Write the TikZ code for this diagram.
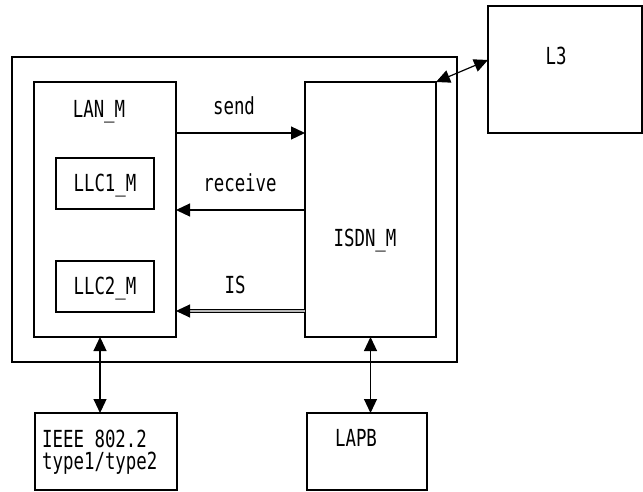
\documentclass[tikz,border=0pt]{standalone}
\usepackage{fontspec}
\newfontfamily\monof[FakeStretch=0.74]{DejaVu Sans Mono}
\usetikzlibrary{arrows.meta,calc}
\begin{document}
\begin{tikzpicture}[x=1pt,y=-1pt]
\tikzset{
 box/.style={draw, line width=1.2pt, inner sep=0pt, outer sep=0pt},
 txt/.style={font=\monof\fontsize{23.5}{26}\selectfont, inner sep=0pt, anchor=base},
 tip/.tip={Triangle[length=14pt,width=13pt]},
 arr/.style={line width=1.2pt, -tip},
 darr/.style={line width=1.2pt, tip-tip},
 dbl/.style={line width=1pt, double=gray!55, double distance=1.8pt, -tip},
}
\useasboundingbox (0,0) rectangle (643,492);
% boxes
\node[box, minimum width=445pt, minimum height=305pt] (outer) at (234.5,209.5) {};
\node[box, minimum width=142pt, minimum height=255pt] (lan) at (105,209.5) {};
\node[box, minimum width=98pt, minimum height=51pt] (llc1) at (105,183.5) {};
\node[box, minimum width=98pt, minimum height=51pt] (llc2) at (105,286.5) {};
\node[box, minimum width=131pt, minimum height=255pt] (isdn) at (370.5,209.5) {};
\node[box, minimum width=154pt, minimum height=127pt] (l3) at (565,69.5) {};
\node[box, minimum width=142pt, minimum height=77pt] (ieee) at (106,451.5) {};
\node[box, minimum width=120pt, minimum height=77pt] (lapb) at (367,451.5) {};
% texts
\node[txt] (tlan) at (99,118) {LAN\_M};
\node[txt] (tllc1) at (105,192) {LLC1\_M};
\node[txt] (tllc2) at (105,294) {LLC2\_M};
\node[txt] (tisdn) at (365,247) {ISDN\_M};
\node[txt] (tl3) at (556,65) {L3};
\node[txt, anchor=base west] (tieee1) at (42,447) {IEEE 802.2};
\node[txt, anchor=base west] (tieee2) at (42,469) {type1/type2};
\node[txt] (tlapb) at (356,446) {LAPB};
\node[txt] (tsend) at (234,115) {send};
\node[txt] (trecv) at (240,192) {receive};
\node[txt] (tis) at (235,293) {IS};
% connectors
\draw[arr] ($(lan.north east)!0.2!(lan.south east)$) coordinate (s1) -- (s1 -| isdn.west);
\draw[arr] ($(isdn.north west)!0.502!(isdn.south west)$) coordinate (r1) -- (r1 -| lan.east);
\draw[dbl] ($(isdn.north west)!0.898!(isdn.south west)$) coordinate (i1) -- (i1 -| lan.east);
\draw[darr] ($(lan.south west)!0.465!(lan.south east)$) coordinate (v1) -- (v1 |- ieee.north);
\draw[darr] (isdn.south) coordinate (v2) -- (v2 |- lapb.north);
\draw[darr] (isdn.north east) -- ($(l3.north west)!0.425!(l3.south west)$);
\end{tikzpicture}
\end{document}
